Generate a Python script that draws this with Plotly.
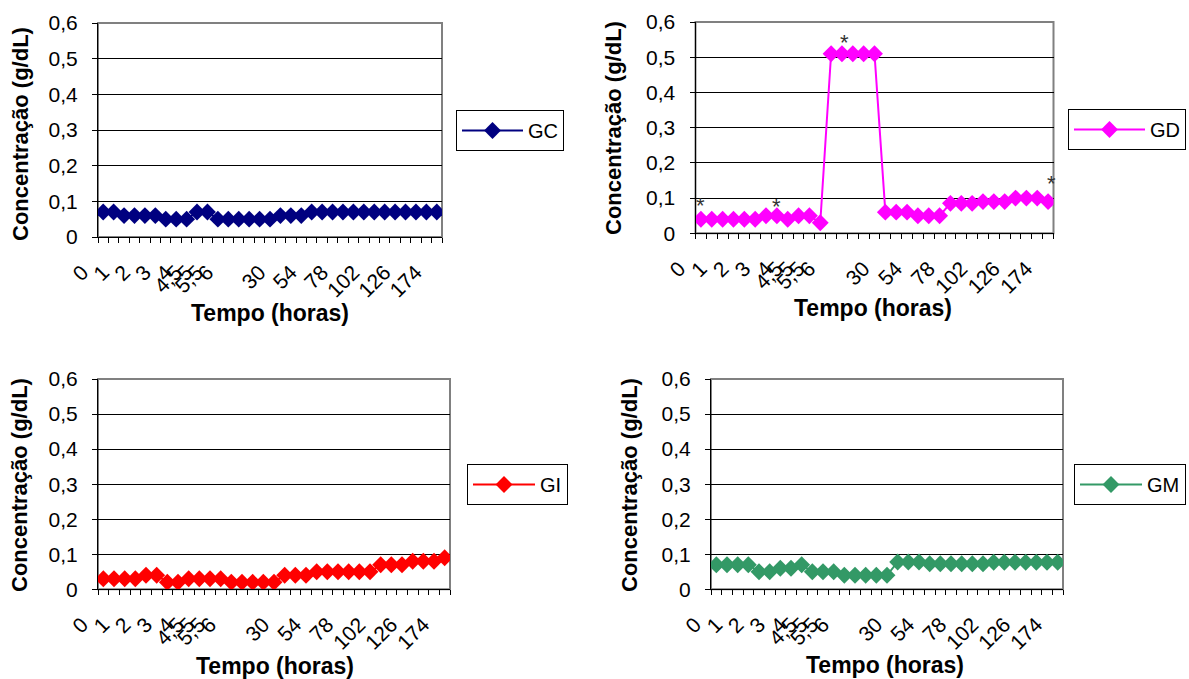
import plotly.graph_objects as go

# ---- data -------------------------------------------------------------
tempo_labels = ['0', '', '1', '', '2', '', '3', '', '4', '4,5', '5', '5,5', '6',
                '', '', '', '', '30', '', '', '54', '', '', '78', '', '', '102',
                '', '', '126', '', '', '174']
categorias = list(range(len(tempo_labels)))

gc = [0.07, 0.07, 0.06, 0.06, 0.06, 0.06, 0.05, 0.05, 0.05, 0.07, 0.07,
      0.05, 0.05, 0.05, 0.05, 0.05, 0.05, 0.06, 0.06, 0.06, 0.07, 0.07,
      0.07, 0.07, 0.07, 0.07, 0.07, 0.07, 0.07, 0.07, 0.07, 0.07, 0.07]
gd = [0.04, 0.04, 0.04, 0.04, 0.04, 0.04, 0.05, 0.05, 0.04, 0.05, 0.05,
      0.03, 0.51, 0.51, 0.51, 0.51, 0.51, 0.06, 0.06, 0.06, 0.05, 0.05,
      0.05, 0.085, 0.085, 0.085, 0.09, 0.09, 0.09, 0.10, 0.10, 0.10, 0.09]
gi = [0.03, 0.03, 0.03, 0.03, 0.04, 0.04, 0.02, 0.02, 0.03, 0.03, 0.03,
      0.03, 0.02, 0.02, 0.02, 0.02, 0.02, 0.04, 0.04, 0.04, 0.05, 0.05,
      0.05, 0.05, 0.05, 0.05, 0.07, 0.07, 0.07, 0.08, 0.08, 0.08, 0.09]
gm = [0.07, 0.07, 0.07, 0.07, 0.05, 0.05, 0.06, 0.06, 0.07, 0.05, 0.05,
      0.05, 0.04, 0.04, 0.04, 0.04, 0.04, 0.078, 0.078, 0.078, 0.073, 0.073,
      0.073, 0.073, 0.073, 0.073, 0.077, 0.077, 0.077, 0.077, 0.077, 0.077, 0.077]

# asterisks marked on the GD panel (category position, value)
asterisco_x = [0, 7, 13.2, 32.3]
asterisco_y = [0.09, 0.087, 0.554, 0.154]

series = [
    dict(name='GC', y=gc, color='#000080'),
    dict(name='GD', y=gd, color='#FF00FF'),
    dict(name='GI', y=gi, color='#FF0000'),
    dict(name='GM', y=gm, color='#339966'),
]

# ---- layout geometry (pixels) ------------------------------------------
W, H = 1189, 679
plot_px = [  # left, right, top, bottom
    (98, 442, 23, 237),
    (695.5, 1053.5, 22, 233.3),
    (98, 450, 379, 589.3),
    (711, 1063, 379, 589.3),
]
legend_px = [(456, 110), (1068, 109), (467, 464), (1074, 464)]
legend_itemwidth = [61, 71, 62, 62]
xtitle_px = [(270, 313), (873, 308), (275, 666), (885, 665)]
ytitle_px = [(21, 134), (613, 128), (19, 485), (629, 485)]
LABEL_SHIFT = 2.0   # Excel draws the rotated labels left of the category centre
LABEL_EXTRA = 3.0   # extra room (in categories) so the first label stays visible

fig = go.Figure()
FONT = 'Liberation Sans, Arial, sans-serif'

for i, s in enumerate(series):
    k = '' if i == 0 else str(i + 1)
    kl = str(i + 5)
    leg = 'legend' + k
    fig.add_trace(go.Scatter(
        x=categorias, y=s['y'], name=s['name'], mode='lines+markers',
        line=dict(color=s['color'], width=2),
        marker=dict(symbol='diamond', size=13, color=s['color']),
        xaxis='x' + k, yaxis='y' + k, legend=leg, showlegend=True,
    ))
    # invisible companion trace on the label-only axes
    fig.add_trace(go.Scatter(
        x=categorias, y=s['y'], mode='markers', marker=dict(opacity=0),
        xaxis='x' + kl, yaxis='y' + kl, showlegend=False, hoverinfo='skip',
    ))
    l, r, t, b = plot_px[i]
    n = len(categorias)
    cw = (r - l) / n
    ydom = [1 - b / H, 1 - t / H]
    # category axis: tick marks on the category boundaries
    fig.layout['xaxis' + k] = dict(
        type='category', domain=[l / W, r / W], anchor='y' + k,
        range=[-0.5, n - 0.5],
        tickmode='array', tickvals=categorias, ticktext=tempo_labels,
        tickson='boundaries', ticks='outside', ticklen=5, tickcolor='black',
        showticklabels=False, automargin=False,
        showline=True, linecolor='black', linewidth=1, showgrid=False,
        zeroline=False,
    )
    # separate axis carrying only the rotated time labels (same scale, shifted)
    fig.layout['xaxis' + kl] = dict(
        anchor='y' + kl,
        domain=[(l - LABEL_EXTRA * cw) / W, r / W], type='linear',
        range=[-0.5 + LABEL_SHIFT - LABEL_EXTRA, n - 0.5 + LABEL_SHIFT],
        tickmode='array', tickvals=categorias, ticktext=tempo_labels,
        ticks='', tickangle=-45, automargin=False, ticklabelstandoff=18,
        tickfont=dict(size=21, family=FONT, color='black'),
        showline=False, showgrid=False, zeroline=False,
    )
    fig.layout['yaxis' + kl] = dict(
        anchor='x' + kl, domain=ydom, range=[0, 0.6], visible=False,
        showgrid=False, zeroline=False, automargin=False,
    )
    fig.layout['yaxis' + k] = dict(
        domain=ydom, anchor='x' + k,
        range=[0, 0.6], tick0=0, dtick=0.1, ticks='outside', ticklen=5,
        tickcolor='black', tickfont=dict(size=21, family=FONT, color='black'),
        ticklabelstandoff=10, automargin=False,
        showgrid=True, gridcolor='black', gridwidth=1,
        showline=True, linecolor='black', linewidth=1, zeroline=False,
    )
    lx, ly = legend_px[i]
    fig.layout[leg] = dict(
        x=lx / W, y=1 - ly / H, xanchor='left', yanchor='top',
        bordercolor='black', borderwidth=1, bgcolor='white',
        itemwidth=legend_itemwidth[i],
        font=dict(size=20, family=FONT, color='black'),
    )
    # plot-area border (Excel style grey frame)
    fig.add_shape(type='rect', xref='x' + k + ' domain', yref='y' + k + ' domain',
                  x0=0, x1=1, y0=0, y1=1, line=dict(color='#808080', width=2),
                  layer='below')
    tx, ty = xtitle_px[i]
    fig.add_annotation(text='<b>Tempo (horas)</b>', x=tx / W, y=1 - ty / H,
                       xref='paper', yref='paper', showarrow=False,
                       xanchor='center', yanchor='middle',
                       font=dict(size=23, family=FONT, color='black'))
    yx, yy = ytitle_px[i]
    fig.add_annotation(text='<b>Concentração (g/dL)</b>', x=yx / W, y=1 - yy / H,
                       xref='paper', yref='paper', showarrow=False, textangle=-90,
                       xanchor='center', yanchor='middle',
                       font=dict(size=22, family=FONT, color='black'))

for ax, ay in zip(asterisco_x, asterisco_y):
    fig.add_annotation(text='*', x=ax, y=ay, xref='x2', yref='y2', showarrow=False,
                       xanchor='center', yanchor='middle', yshift=-4,
                       font=dict(size=22, family=FONT, color='#333333'))

fig.update_layout(
    width=W, height=H, autosize=False, margin=dict(l=0, r=0, t=0, b=0, pad=0),
    paper_bgcolor='white', plot_bgcolor='rgba(0,0,0,0)', separators=',.',
    font=dict(family=FONT, color='black'),
)

fig.write_html('out.html')
